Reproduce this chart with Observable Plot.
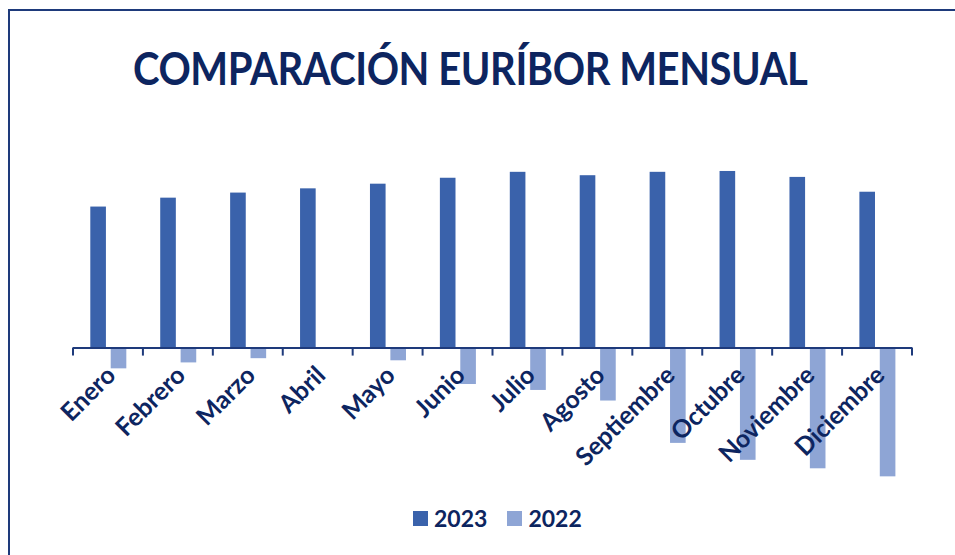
<!DOCTYPE html>
<html>
<head>
<meta charset="utf-8">
<script src="https://cdn.jsdelivr.net/npm/d3@7"></script>
<script src="https://cdn.jsdelivr.net/npm/@observablehq/plot@0.6"></script>
<style>
  html, body { margin: 0; padding: 0; background: #fff; }
  #wrap { position: relative; width: 955px; height: 555px; overflow: hidden; font-family: Lato, "Open Sans", sans-serif; }
  #frame { position: absolute; left: 8px; top: 9px; width: 960px; height: 560px; border-top: 2px solid #1E3A7B; border-left: 2px solid #1E3A7B; }
  #title { position: absolute; left: 133px; top: 40px; font-size: 46px; font-weight: 700; color: #0D2560; white-space: nowrap; letter-spacing: -0.5px; transform: scaleX(0.87); transform-origin: 0 0; }
  #chart { position: absolute; left: 0; top: 157px; }
  #legend { position: absolute; top: 504px; left: 413px; display: flex; align-items: center; font-size: 23px; font-weight: 700; color: #0D2560; }
  #legend .sw { width: 15px; height: 15px; display: inline-block; margin-right: 6px; }
  #legend .item { display: flex; align-items: center; margin-right: 20px; }
</style>
</head>
<body>
<div id="wrap">
  <div id="frame"></div>
  <div id="title">COMPARACIÓN EURÍBOR MENSUAL</div>
  <div id="chart"></div>
  <div id="legend"></div>
</div>
<script>
const months = ["Enero","Febrero","Marzo","Abril","Mayo","Junio","Julio","Agosto","Septiembre","Octubre","Noviembre","Diciembre"];
const values2023 = [3.33, 3.54, 3.66, 3.76, 3.87, 4.01, 4.15, 4.07, 4.15, 4.17, 4.03, 3.68];
// 2022 series as drawn in the picture (bars hang below the axis)
const values2022 = [-0.49, -0.35, -0.25, -0.01, -0.30, -0.86, -1.00, -1.25, -2.25, -2.65, -2.85, -3.04];
const seriesNames = ["2023", "2022"];
const seriesColors = ["#3A62AB", "#8EA5D5"];
const textColor = "#0D2560";
const axisColor = "#1E3A7B";

const rows2023 = months.map((m, i) => ({month: m, value: values2023[i]}));
const rows2022 = months.map((m, i) => ({month: m, value: values2022[i]}));

function boundaryTicks(index, scales) {
  const x = scales.x, y = scales.y;
  const step = x.bandwidth ? x.bandwidth() : (x(months[1]) - x(months[0]));
  const y0 = y(0);
  const g = d3.create("svg:g").attr("stroke", axisColor).attr("stroke-width", 2);
  const xs = months.map(m => x(m)).concat([x(months[months.length - 1]) + step]);
  for (const xv of xs) {
    g.append("line").attr("x1", xv).attr("x2", xv).attr("y1", y0).attr("y2", y0 + 8);
  }
  return g.node();
}

const plot = Plot.plot({
  width: 955,
  height: 360,
  marginLeft: 73,
  marginRight: 43,
  marginTop: 0,
  marginBottom: 0,
  x: {domain: months, padding: 0, round: false, axis: null},
  y: {domain: [-4, 4.5], axis: null},
  style: {fontFamily: "Lato, 'Open Sans', sans-serif", background: "transparent", overflow: "visible"},
  marks: [
    Plot.barY(rows2023, {x: "month", y: "value", fill: seriesColors[0], insetLeft: 17.3, insetRight: 37}),
    Plot.barY(rows2022, {x: "month", y: "value", fill: seriesColors[1], insetLeft: 37.7, insetRight: 16.6}),
    Plot.ruleY([0], {stroke: axisColor, strokeWidth: 2}),
    boundaryTicks,
    Plot.text(months, {x: d => d, y: () => 0, text: d => d, rotate: -45, textAnchor: "end", fontSize: 25, fontWeight: 700, fill: textColor, dx: 3, dy: 23})
  ]
});
document.getElementById("chart").appendChild(plot);

const legend = document.getElementById("legend");
seriesNames.forEach((name, i) => {
  const item = document.createElement("span");
  item.className = "item";
  const sw = document.createElement("span");
  sw.className = "sw";
  sw.style.background = seriesColors[i];
  item.appendChild(sw);
  item.appendChild(document.createTextNode(name));
  legend.appendChild(item);
});
</script>
</body>
</html>
